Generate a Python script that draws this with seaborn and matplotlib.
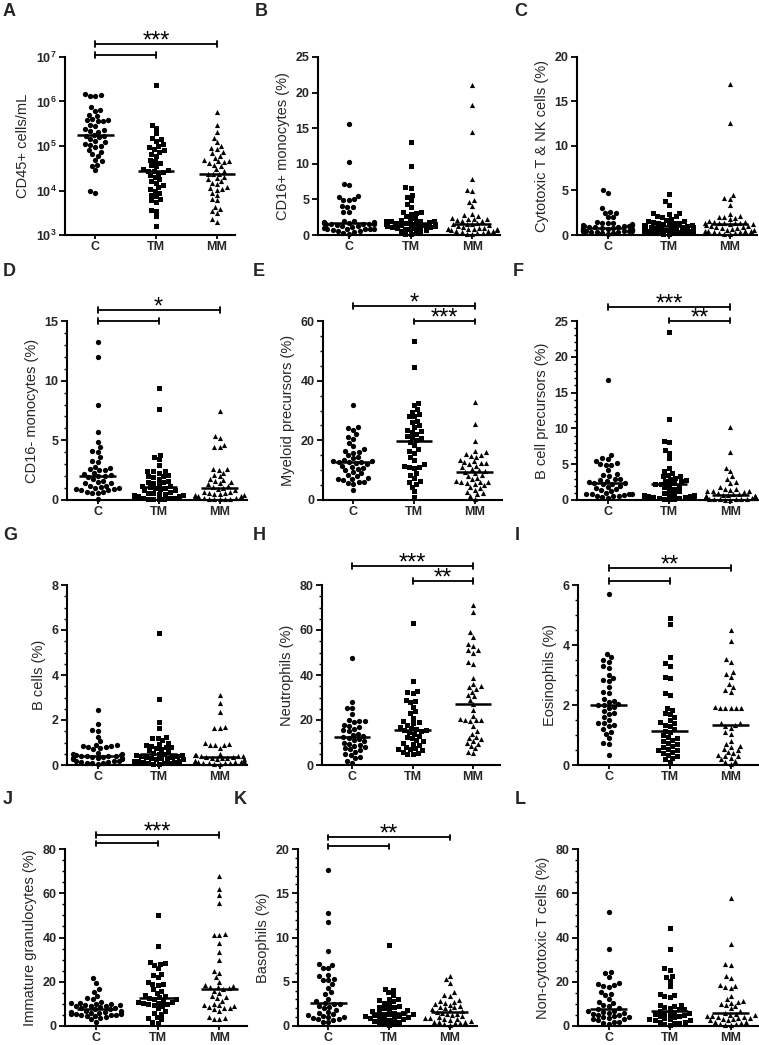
import warnings
warnings.filterwarnings("ignore")
import numpy as np
import pandas as pd
import matplotlib
matplotlib.use("Agg")
import matplotlib.pyplot as plt
import matplotlib.transforms as mtransforms
from matplotlib.ticker import AutoMinorLocator, FixedLocator, FuncFormatter, NullLocator
import seaborn as sns

sns.set_theme(style="ticks")
plt.rcParams['font.family'] = ['Liberation Sans', 'DejaVu Sans']
plt.rcParams['mathtext.fontset'] = 'custom'
plt.rcParams['mathtext.rm'] = 'Liberation Sans'
plt.rcParams['mathtext.bf'] = 'Liberation Sans:bold'

groups = ["C", "TM", "MM"]
markers = {"C": "o", "TM": "s", "MM": "^"}
msize = {"C": 3.8, "TM": 3.6, "MM": 3.7}

# ---------------- data ----------------
cd45_C = [1.5e6, 1.4e6, 1.3e6, 1.35e6, 7.5e5, 6.2e5, 6.5e5, 4.8e5, 5.0e5, 3.8e5, 3.6e5, 3.9e5, 3.7e5, 4.0e5,
          2.8e5, 3.0e5, 2.3e5, 2.2e5, 2.4e5, 2.1e5, 1.7e5, 1.65e5, 1.6e5, 1.8e5, 1.4e5, 1.3e5, 1.2e5, 1.05e5,
          1.0e5, 1.1e5, 9.5e4, 8e4, 7.5e4, 6.5e4, 6e4, 4.8e4, 4.5e4, 3.8e4, 3.6e4, 2.9e4, 1.0e4, 8.8e3]
cd45_TM = [2.3e6, 3.0e5, 2.6e5, 2.0e5, 1.5e5, 1.4e5, 1.3e5, 1.1e5, 1.0e5, 9.5e4, 8.5e4, 8e4, 7.5e4, 6.5e4,
           6e4, 4.8e4, 4.5e4, 4.2e4, 3.7e4, 3.5e4, 3.0e4, 2.9e4, 2.8e4, 2.7e4, 2.6e4, 2.4e4, 2.2e4, 2.0e4,
           1.8e4, 1.6e4, 1.5e4, 1.3e4, 1.2e4, 1.1e4, 1.0e4, 9e3, 8e3, 7.5e3, 6.5e3, 6e3, 5.5e3, 3.7e3,
           3.5e3, 2.7e3, 1.6e3]
cd45_MM = [5.7e5, 3.0e5, 2.1e5, 1.5e5, 1.2e5, 1.0e5, 9e4, 8.5e4, 7.5e4, 7e4, 6e4, 5.5e4, 4.8e4, 4.6e4,
           4.5e4, 4.4e4, 4.2e4, 3.8e4, 3.5e4, 3.0e4, 2.8e4, 2.4e4, 2.4e4, 2.3e4, 2.0e4, 1.9e4, 1.8e4, 1.6e4,
           1.5e4, 1.4e4, 1.2e4, 1.15e4, 1.1e4, 1.05e4, 9e3, 8e3, 6.5e3, 6e3, 4.3e3, 3.8e3, 3.5e3, 3.1e3,
           2.3e3, 2.0e3]

cd16p_C = [15.6, 10.3, 7.2, 7.0, 5.5, 5.3, 5.0, 4.9, 4.9, 4.1, 4.0, 3.9, 3.2, 3.2, 2.0, 1.9, 1.8, 1.8, 1.7,
           1.7, 1.65, 1.6, 1.6, 1.55, 1.5, 1.5, 1.4, 1.3, 1.2, 1.1, 1.0, 0.9, 0.9, 0.8, 0.8, 0.8, 0.7, 0.6,
           0.5, 0.4, 0.3, 0.2]
cd16p_TM = [13.0, 9.7, 6.7, 6.6, 5.6, 5.4, 4.9, 4.4, 3.9, 3.3, 3.2, 3.1, 2.9, 2.6, 2.4, 2.2, 2.1, 2.0, 2.0,
            1.9, 1.9, 1.8, 1.75, 1.7, 1.7, 1.6, 1.6, 1.5, 1.5, 1.4, 1.4, 1.3, 1.3, 1.2, 1.1, 1.1, 1.0, 1.0,
            0.9, 0.8, 0.7, 0.6, 0.5, 0.3, 0.2, 0.1]
cd16p_MM = [21.0, 18.2, 14.4, 7.9, 6.3, 6.2, 4.9, 4.7, 4.1, 3.0, 2.8, 2.6, 2.4, 2.3, 2.2, 2.2, 2.1, 2.0, 1.9,
            1.7, 1.6, 1.5, 1.5, 1.4, 1.2, 1.1, 1.0, 1.0, 0.9, 0.9, 0.8, 0.8, 0.8, 0.7, 0.7, 0.6, 0.5, 0.5,
            0.4, 0.3, 0.3, 0.2, 0.1]

ctnk_C = [5.1, 4.7, 3.0, 2.6, 2.5, 2.5, 2.0, 2.0, 1.5, 1.4, 1.4, 1.3, 1.2, 1.1, 1.1, 1.0, 1.0, 1.0, 0.9, 0.9,
          0.85, 0.8, 0.8, 0.75, 0.7, 0.7, 0.7, 0.6, 0.6, 0.6, 0.5, 0.5, 0.5, 0.4, 0.4, 0.4, 0.3, 0.3, 0.3,
          0.2, 0.2, 0.1]
ctnk_TM = [4.6, 3.8, 3.4, 2.5, 2.5, 2.4, 2.1, 2.1, 2.0, 1.8, 1.7, 1.6, 1.6, 1.5, 1.4, 1.3, 1.3, 1.2, 1.2, 1.1,
           1.1, 1.0, 1.0, 0.9, 0.9, 0.9, 0.8, 0.8, 0.8, 0.7, 0.7, 0.7, 0.6, 0.6, 0.5, 0.5, 0.5, 0.4, 0.4,
           0.3, 0.3, 0.2, 0.2, 0.1, 0.1]
ctnk_MM = [17.0, 12.6, 4.5, 4.2, 4.1, 3.4, 2.4, 2.1, 2.0, 2.0, 1.9, 1.8, 1.6, 1.5, 1.5, 1.4, 1.4, 1.4, 1.3,
           1.3, 1.2, 1.2, 1.1, 1.0, 1.0, 0.9, 0.9, 0.8, 0.8, 0.7, 0.6, 0.6, 0.5, 0.5, 0.4, 0.4, 0.3, 0.3,
           0.2, 0.2, 0.1, 0.1]

cd16n_C = [13.2, 12.0, 8.0, 5.7, 4.9, 4.4, 4.1, 4.0, 3.6, 3.3, 3.2, 2.8, 2.7, 2.6, 2.5, 2.5, 2.3, 2.2, 2.1,
           2.0, 2.0, 1.9, 1.8, 1.6, 1.5, 1.4, 1.4, 1.2, 1.2, 1.1, 1.0, 1.0, 0.9, 0.9, 0.8, 0.8, 0.7, 0.7,
           0.6, 0.6, 0.1]
cd16n_TM = [9.4, 7.6, 3.8, 3.6, 3.4, 2.9, 2.4, 2.4, 2.4, 2.3, 2.1, 2.0, 2.0, 1.9, 1.8, 1.6, 1.5, 1.5, 1.4,
            1.3, 1.2, 1.2, 1.1, 1.0, 1.0, 0.9, 0.8, 0.8, 0.7, 0.6, 0.6, 0.5, 0.5, 0.4, 0.4, 0.3, 0.3, 0.3,
            0.2, 0.2, 0.2, 0.1, 0.1, 0.1, 0.05]
cd16n_MM = [7.5, 5.4, 5.2, 4.6, 4.4, 4.4, 2.6, 2.6, 2.5, 2.3, 2.1, 2.0, 1.8, 1.7, 1.6, 1.5, 1.4, 1.3, 1.2,
            1.1, 1.0, 0.9, 0.8, 0.7, 0.7, 0.6, 0.6, 0.5, 0.5, 0.4, 0.4, 0.3, 0.3, 0.3, 0.2, 0.2, 0.1, 0.1,
            0.1, 0.05, 0.05]

myel_C = [31.7, 24.6, 24.3, 23.5, 22.0, 21.0, 20.5, 19.0, 18.0, 17.0, 16.5, 16.2, 15.8, 15.0, 14.5, 14.0,
          13.5, 13.2, 13.0, 12.9, 12.8, 12.7, 12.5, 12.0, 11.5, 11.2, 10.8, 10.5, 10.0, 9.5, 9.0, 8.5, 8.0,
          7.5, 7.2, 7.0, 6.8, 6.2, 6.0, 5.8, 5.5, 3.2]
myel_TM = [53.2, 44.6, 32.5, 31.8, 30.5, 29.6, 28.7, 28.3, 28.0, 26.5, 26.0, 25.0, 24.5, 23.5, 23.0, 22.8,
           22.0, 21.5, 21.0, 20.8, 20.0, 19.5, 18.5, 17.0, 16.5, 15.8, 14.5, 13.5, 12.0, 11.5, 11.2, 11.0,
           10.8, 9.0, 8.5, 7.5, 6.5, 6.0, 5.5, 4.5, 3.0, 1.0]
myel_MM = [32.8, 25.5, 19.7, 16.5, 16.0, 15.5, 15.0, 14.8, 14.5, 13.5, 13.0, 12.8, 12.5, 12.3, 12.0, 11.5,
           11.0, 10.5, 10.0, 9.8, 9.5, 9.0, 8.5, 8.0, 7.5, 7.0, 6.5, 6.2, 6.0, 6.0, 5.8, 5.5, 5.0, 4.5, 4.0,
           3.5, 2.8, 2.5, 2.0, 1.5, 0.5]

bprec_C = [16.8, 6.3, 5.8, 5.7, 5.5, 5.1, 5.0, 4.9, 4.9, 4.2, 3.6, 3.5, 3.4, 3.0, 2.9, 2.8, 2.7, 2.5, 2.4,
           2.4, 2.3, 2.2, 2.0, 1.8, 1.7, 1.5, 1.4, 1.2, 1.0, 0.9, 0.9, 0.8, 0.8, 0.7, 0.6, 0.5, 0.5, 0.4, 0.3]
bprec_TM = [23.4, 11.3, 8.2, 8.1, 7.0, 6.6, 5.8, 4.4, 4.0, 3.8, 3.5, 3.4, 3.3, 3.1, 2.9, 2.8, 2.7, 2.6, 2.4,
            2.3, 2.3, 2.2, 2.0, 1.8, 1.6, 1.5, 1.2, 1.0, 0.9, 0.8, 0.7, 0.7, 0.6, 0.6, 0.5, 0.5, 0.4, 0.4,
            0.3, 0.3, 0.2, 0.2, 0.1]
bprec_MM = [10.2, 6.7, 4.4, 4.0, 3.3, 3.0, 2.5, 2.4, 1.8, 1.5, 1.5, 1.4, 1.3, 1.2, 1.2, 1.1, 1.0, 0.9, 0.8,
            0.7, 0.7, 0.6, 0.6, 0.5, 0.5, 0.5, 0.4, 0.4, 0.4, 0.3, 0.3, 0.3, 0.2, 0.2, 0.2, 0.1, 0.1, 0.1,
            0.05, 0.05]

bcell_C = [2.45, 1.83, 1.55, 1.5, 1.25, 1.05, 0.9, 0.9, 0.85, 0.85, 0.8, 0.8, 0.75, 0.7, 0.55, 0.5, 0.5,
           0.45, 0.45, 0.42, 0.4, 0.4, 0.38, 0.35, 0.35, 0.3, 0.3, 0.3, 0.25, 0.25, 0.2, 0.2, 0.2, 0.15, 0.15,
           0.1, 0.1, 0.1, 0.05]
bcell_TM = [5.85, 2.95, 1.9, 1.65, 1.25, 1.2, 1.2, 1.1, 1.0, 0.95, 0.9, 0.85, 0.8, 0.8, 0.75, 0.7, 0.65, 0.6,
            0.55, 0.5, 0.5, 0.45, 0.45, 0.4, 0.4, 0.35, 0.35, 0.3, 0.3, 0.3, 0.25, 0.25, 0.2, 0.2, 0.2, 0.15,
            0.15, 0.1, 0.1, 0.1, 0.05, 0.05]
bcell_MM = [3.1, 2.75, 2.35, 1.7, 1.65, 1.65, 1.0, 0.95, 0.9, 0.9, 0.9, 0.75, 0.5, 0.45, 0.45, 0.4, 0.4, 0.38,
            0.35, 0.35, 0.3, 0.3, 0.3, 0.25, 0.25, 0.2, 0.2, 0.2, 0.15, 0.15, 0.15, 0.1, 0.1, 0.1, 0.1, 0.05,
            0.05]

neut_C = [47.5, 28, 25.5, 25.5, 22.5, 20, 19.5, 19.5, 19, 18, 17.5, 17, 16, 15.5, 15, 14, 13.5, 13, 12.5, 12,
          11.5, 11, 10.5, 10, 9.5, 9, 8.5, 8, 7.5, 7, 6.5, 6, 5, 4.5, 3.5, 3, 2, 1]
neut_TM = [63, 37.5, 33, 32.5, 32, 29, 28.5, 28, 26, 24, 23, 21, 19.5, 19, 18.5, 18, 17, 16.5, 16, 15.5, 15.5,
           15, 14.5, 14, 13, 12.5, 12, 11, 10.5, 10, 9.5, 9, 8, 7.5, 7, 7, 6.5, 6, 5.5, 5, 5]
neut_MM = [71, 68, 59, 57, 54, 53, 51, 51, 50, 46, 45, 38.5, 36, 35, 34.5, 34, 32.5, 31, 30.5, 29, 27, 24.5,
           22, 20.5, 20, 20, 20, 19.5, 17.5, 15, 14, 12.5, 12, 11.5, 10.5, 10, 9.5, 8.5, 7.5, 6, 5.5]

eos_C = [5.7, 3.7, 3.6, 3.5, 3.45, 3.3, 3.25, 3.0, 2.9, 2.85, 2.8, 2.6, 2.45, 2.4, 2.2, 2.15, 2.1, 2.05, 2.0,
         2.0, 1.95, 1.9, 1.8, 1.75, 1.7, 1.6, 1.5, 1.4, 1.4, 1.35, 1.3, 1.2, 1.1, 1.05, 0.9, 0.75, 0.7, 0.35]
eos_TM = [4.9, 4.7, 3.6, 3.4, 3.3, 2.95, 2.9, 2.4, 2.35, 1.9, 1.85, 1.75, 1.7, 1.6, 1.5, 1.45, 1.4, 1.35, 1.3,
          1.2, 1.15, 1.1, 1.0, 0.95, 0.9, 0.85, 0.8, 0.75, 0.7, 0.65, 0.6, 0.55, 0.5, 0.5, 0.45, 0.4, 0.35,
          0.3, 0.25, 0.2, 0.1]
eos_MM = [4.5, 4.15, 3.55, 3.45, 3.1, 3.05, 2.95, 2.7, 2.6, 2.5, 2.45, 1.95, 1.9, 1.9, 1.9, 1.9, 1.9, 1.4, 1.4,
          1.35, 1.3, 1.25, 1.1, 1.05, 0.8, 0.7, 0.65, 0.6, 0.55, 0.5, 0.45, 0.4, 0.35, 0.3, 0.3, 0.25, 0.2,
          0.15, 0.1, 0.05]

ig_C = [21.5, 19.5, 16.5, 15.5, 13.5, 12.5, 12, 11, 10.5, 10.5, 10, 10, 9.5, 9.5, 9, 9, 9, 8.5, 8, 8, 7.5,
        7.5, 7, 7, 6.5, 6.5, 6, 6, 6, 5.5, 5.5, 5.5, 5, 5, 5, 4.5, 4.5, 4, 3.5, 3, 2]
ig_TM = [50, 36, 29, 28.5, 28, 27.5, 26, 23.5, 23, 22, 20, 19, 19, 18.5, 16.5, 16, 15, 14, 13.5, 13, 12.5, 12,
         12, 11.5, 11, 11, 10.5, 10.5, 10, 10, 9.5, 9, 8, 7, 6, 5.5, 4, 3.5, 3, 2, 1.5]
ig_MM = [68, 62, 59, 55.5, 41.5, 41, 41, 37.5, 33.5, 30, 25, 24, 22, 20, 18.5, 18, 17.5, 17.5, 17, 16.5, 16,
         15, 13.5, 13, 12.5, 11.5, 10, 9.5, 9.5, 9, 8.5, 8, 8, 7.5, 7, 4, 3.5, 3, 3]

baso_C = [17.6, 12.8, 11.8, 8.5, 7.0, 6.9, 6.6, 6.5, 5.8, 5.6, 5.3, 5.2, 5.2, 4.7, 4.3, 3.8, 3.6, 3.1, 2.8, 2.6,
          2.5, 2.5, 2.3, 2.2, 2.0, 1.8, 1.6, 1.5, 1.3, 1.2, 1.1, 1.0, 1.0, 0.9, 0.8, 0.8, 0.7, 0.5, 0.4]
baso_TM = [9.2, 4.2, 4.1, 3.8, 3.5, 3.1, 3.0, 2.9, 2.8, 2.6, 2.5, 2.3, 2.2, 2.1, 2.0, 1.9, 1.8, 1.7, 1.6, 1.5,
           1.5, 1.4, 1.3, 1.3, 1.2, 1.1, 1.1, 1.0, 1.0, 0.9, 0.9, 0.8, 0.8, 0.7, 0.6, 0.5, 0.4, 0.3, 0.2, 0.1]
baso_MM = [5.6, 5.3, 4.9, 3.8, 3.5, 3.4, 2.9, 2.8, 2.7, 2.6, 2.5, 2.4, 2.3, 2.2, 2.1, 2.0, 1.9, 1.8, 1.7, 1.55,
           1.5, 1.4, 1.3, 1.2, 1.1, 1.0, 0.9, 0.9, 0.8, 0.8, 0.7, 0.6, 0.5, 0.5, 0.4, 0.3, 0.3, 0.2, 0.1]

nct_C = [51.5, 35, 24.5, 24, 22, 19.5, 19, 18.5, 18, 17.5, 15.5, 14.5, 14, 12, 11, 10.5, 9.5, 9, 8, 7.5, 7, 7,
         6.5, 6, 6, 5.5, 5, 5, 4.5, 4, 4, 3.5, 3, 3, 2.5, 2, 2, 1.5, 1]
nct_TM = [44.5, 35, 26, 25.5, 22.5, 22, 20.5, 18, 14.5, 14, 13.5, 13, 9.5, 9.5, 9, 8.5, 8, 7.5, 7.5, 7, 6.5, 6,
          6, 5.5, 5.5, 5, 4.5, 4.5, 4, 3.5, 3, 3, 2.5, 2.5, 2, 2, 1.5, 1.5, 1, 0.5]
nct_MM = [58, 37, 28, 27.5, 22.5, 21.5, 18.5, 18, 17.5, 17, 13.5, 12, 11.5, 11, 10.5, 10, 9.5, 9, 8, 7, 6, 5.5,
          5, 5, 4.5, 4.5, 4, 4, 3.5, 3.5, 3, 3, 2.5, 2.5, 2, 2, 1.5, 1, 1, 0.5, 0.5]

ylabels = ["CD45+ cells/mL", "CD16+ monocytes (%)", "Cytotoxic T & NK cells (%)",
           "CD16- monocytes (%)", "Myeloid precursors (%)", "B cell precursors (%)",
           "B cells (%)", "Neutrophils (%)", "Eosinophils (%)",
           "Immature granulocytes (%)", "Basophils (%)", "Non-cytotoxic T cells (%)"]
letters = list("ABCDEFGHIJKL")
datasets = [
    (cd45_C, cd45_TM, cd45_MM), (cd16p_C, cd16p_TM, cd16p_MM), (ctnk_C, ctnk_TM, ctnk_MM),
    (cd16n_C, cd16n_TM, cd16n_MM), (myel_C, myel_TM, myel_MM), (bprec_C, bprec_TM, bprec_MM),
    (bcell_C, bcell_TM, bcell_MM), (neut_C, neut_TM, neut_MM), (eos_C, eos_TM, eos_MM),
    (ig_C, ig_TM, ig_MM), (baso_C, baso_TM, baso_MM), (nct_C, nct_TM, nct_MM),
]
yticks = [[1e3, 1e4, 1e5, 1e6, 1e7], [0, 5, 10, 15, 20, 25], [0, 5, 10, 15, 20],
          [0, 5, 10, 15], [0, 20, 40, 60], [0, 5, 10, 15, 20, 25],
          [0, 2, 4, 6, 8], [0, 20, 40, 60, 80], [0, 2, 4, 6],
          [0, 20, 40, 60, 80], [0, 5, 10, 15, 20], [0, 20, 40, 60, 80]]
# significance: (group_from, group_to, level) ; stars: (text, x, level)
brackets = [
    [(0, 1, 1.011), (0, 2, 1.073)], [], [],
    [(0, 1, 1.0), (0, 2, 1.061)], [(0, 2, 1.085), (1, 2, 0.998)], [(0, 2, 1.077), (1, 2, 1.002)],
    [], [(0, 2, 1.107), (1, 2, 1.022)], [(0, 2, 1.093), (0, 1, 1.022)],
    [(0, 2, 1.08), (0, 1, 1.032)], [(0, 2, 1.065), (0, 1, 1.015)], [],
]
stars = [
    [("***", 1, 1.073)], [], [],
    [("*", 1, 1.061)], [("*", 1, 1.085), ("***", 1.5, 0.998)], [("***", 1, 1.077), ("**", 1.5, 1.002)],
    [], [("***", 1, 1.107), ("**", 1.5, 1.022)], [("**", 1, 1.093)],
    [("***", 1, 1.08)], [("**", 1, 1.065)], [],
]
minor_n = [0, 0, 0, 5, 4, 5, 4, 4, 4, 4, 5, 4]

# layout (pixels): left, right, top, bottom
W, H = 759, 1045
rects = [(65, 235, 57, 235), (318, 500, 57, 235), (577, 757, 57, 235),
         (67, 247, 321, 500), (323, 502, 321, 500), (577, 758, 321, 500),
         (67, 247, 585, 765), (322, 500, 585, 765), (578, 758, 585, 765),
         (65, 247, 849, 1026), (298, 477, 849, 1026), (578, 758, 849, 1026)]
letter_pos = [(3, 11), (255, 11), (514, 11), (3, 272), (253, 272), (513, 272),
              (3, 536), (253, 536), (515, 536), (3, 800), (234, 800), (515, 800)]

fig = plt.figure(figsize=(W / 100, H / 100), dpi=100)
fig.patch.set_facecolor("white")

for k in range(12):
    l, r, t, b = rects[k]
    ax = fig.add_axes([l / W, 1 - b / H, (r - l) / W, (b - t) / H])
    ax.set_facecolor("white")
    logp = (k == 0)
    if logp:
        ax.set_yscale("log")
        ax.set_ylim(1e3, 1e7)
    else:
        ax.set_ylim(0, yticks[k][-1])
    ax.set_xlim(-0.5, 2.3 if logp else 2.45)
    for gi, g in enumerate(groups):
        df = pd.DataFrame({"group": g, "value": datasets[k][gi]})
        sns.swarmplot(data=df, x="group", y="value", order=groups, marker=markers[g],
                      color="black", size=msize[g], linewidth=0, ax=ax, warn_thresh=1)
        med = np.median(datasets[k][gi])
        ax.hlines(med, gi - 0.3, gi + 0.3, colors="black", lw=1.8, zorder=4)
    for c in ax.collections:
        c.set_clip_on(False)
    ax.set_xlim(-0.5, 2.3 if logp else 2.45)
    if logp:
        ax.set_ylim(1e3, 1e7)
        ax.yaxis.set_major_locator(FixedLocator(yticks[k]))
        ax.yaxis.set_minor_locator(NullLocator())
        ax.yaxis.set_major_formatter(FuncFormatter(lambda v, p: r"$\mathbf{10^{%d}}$" % round(np.log10(v))))
    else:
        ax.set_ylim(0, yticks[k][-1])
        ax.set_yticks(yticks[k])
        if minor_n[k]:
            ax.yaxis.set_minor_locator(AutoMinorLocator(minor_n[k]))
    ax.set_xlabel("")
    ax.set_ylabel(ylabels[k], fontsize=10.5, labelpad=4)
    for s in ["top", "right"]:
        ax.spines[s].set_visible(False)
    for s in ["left", "bottom"]:
        ax.spines[s].set_linewidth(1.5)
        ax.spines[s].set_color("black")
    ax.tick_params(axis="both", which="major", direction="out", length=4, width=1.3,
                   color="black", labelsize=9, pad=2)
    ax.tick_params(axis="x", which="major", length=3, pad=1.5)
    ax.tick_params(axis="y", which="minor", direction="out", length=2.5, width=1.0, color="black")
    for lab in ax.get_xticklabels() + ax.get_yticklabels():
        lab.set_fontweight("bold")
    ax.grid(False)

    trans = mtransforms.blended_transform_factory(ax.transData, ax.transAxes)
    hpx = b - t
    d = 2.8 / hpx
    for (x1, x2, yy) in brackets[k]:
        ax.plot([x1, x2], [yy, yy], transform=trans, color="black", lw=1.3, clip_on=False)
        for xe in (x1, x2):
            ax.plot([xe, xe], [yy - d, yy + d], transform=trans, color="black", lw=1.3, clip_on=False)
    for (txt, xx, yy) in stars[k]:
        ax.annotate(txt, xy=(xx, yy), xycoords=trans, xytext=(0, -2.5), textcoords="offset points",
                    ha="center", va="baseline", fontsize=17, color="black", annotation_clip=False)

    lx, ly = letter_pos[k]
    fig.text(lx / W, 1 - ly / H, letters[k], fontsize=13, fontweight="bold", va="center", ha="left")

fig.savefig("out.png", dpi=100, facecolor="white")
